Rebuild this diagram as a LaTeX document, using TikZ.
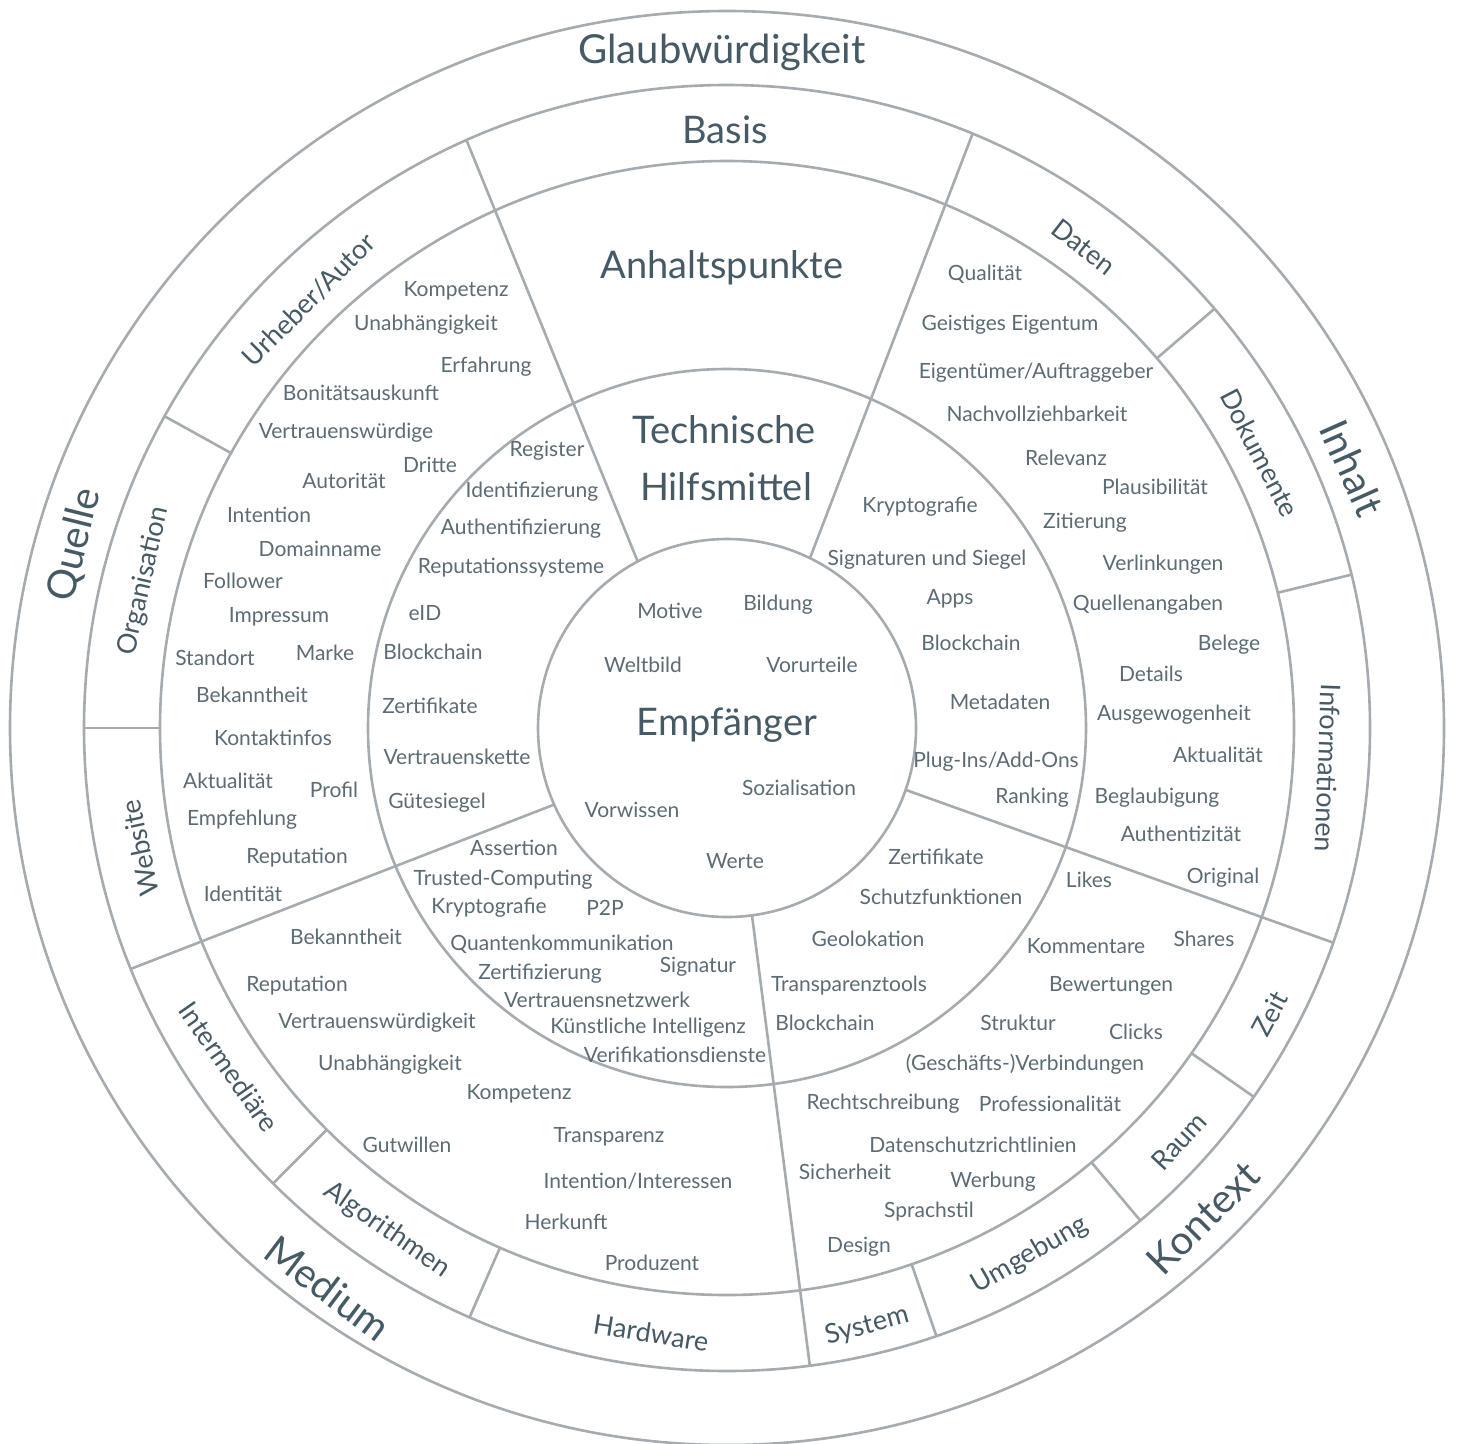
\documentclass[tikz,border=0pt]{standalone}
\usepackage{fontspec}
\setmainfont{Lato}
\definecolor{hd}{HTML}{465A66}
\definecolor{tx}{HTML}{5C6B74}
\definecolor{ln}{HTML}{A5ABAF}
\begin{document}
\begin{tikzpicture}[x=1pt,y=-1pt,
  ring/.style={draw=ln,line width=2.6pt},
  big/.style={text=hd,font=\fontsize{40}{44}\selectfont,inner sep=0pt},
  ttl/.style={text=hd,font=\fontsize{38}{42}\selectfont,inner sep=0pt},
  seg/.style={text=hd,font=\fontsize{27}{30}\selectfont,inner sep=0pt},
  item/.style={text=tx,font=\fontsize{21}{24}\selectfont,inner sep=0pt}]
\useasboundingbox[fill=white] (0,0) rectangle (1459,1443);
\coordinate (C) at (727,728);
% circles
\draw[ring] (C) circle[radius=717pt];
\draw[ring] (C) circle[radius=643pt];
\draw[ring] (C) circle[radius=567pt];
\draw[ring] (C) circle[radius=359pt];
\draw[ring] (C) circle[radius=189pt];
% main dividers
\foreach \ao/\ai in {113.9/118.2, 67.55/63.97, 202.0/203.9, 277.4/277.6, 340.5/340.9}
  \draw[ring] ({727+643*cos(\ao)},{728-643*sin(\ao)}) -- ({727+189*cos(\ai)},{728-189*sin(\ai)});
% sub dividers
\foreach \a in {151,180,225.1,246.4,289,310,325,13.8,40.7}
  \draw[ring] ({727+567*cos(\a)},{728-567*sin(\a)}) -- ({727+643*cos(\a)},{728-643*sin(\a)});
% outer ring labels
\node[big] (glaub) at (722,52) {Glaubwürdigkeit};
\node[big,rotate=76] (quelle) at (75,545) {Quelle};
\node[big,rotate=-66] (inhalt) at (1352,468) {Inhalt};
\node[big,rotate=45] (kontext) at (1203,1218) {Kontext};
\node[big,rotate=-37] (medium) at (328,1288) {Medium};
% second ring labels
\node[ttl] (basis) at (725,130) {Basis};
\node[seg,rotate=45] (urheber) at (309,300) {Urheber/Autor};
\node[seg,rotate=77] (orga) at (144,581) {Organisation};
\node[seg,rotate=102] (web) at (140,848) {Website};
\node[seg,rotate=-55] (inter) at (229,1067) {Intermediäre};
\node[seg,rotate=-35] (algo) at (387,1230) {Algorithmen};
\node[seg,rotate=-9] (hard) at (651,1333) {Hardware};
\node[seg,rotate=15] (sys) at (867,1326) {System};
\node[seg,rotate=30] (umg) at (1030,1255) {Umgebung};
\node[seg,rotate=47] (raum) at (1179,1141) {Raum};
\node[seg,rotate=62] (zeit) at (1270,1014) {Zeit};
\node[seg,rotate=-92] (info) at (1328,768) {Informationen};
\node[seg,rotate=-62.6] (doku) at (1260,453) {Dokumente};
\node[seg,rotate=-38] (daten) at (1084,247) {Daten};
% titles
\node[ttl] (anh) at (722,268) {Anhaltspunkte};
\node[ttl] (tech1) at (724,430) {Technische};
\node[ttl] (tech2) at (726,487) {Hilfsmittel};
\node[ttl] (empf) at (727,725) {Empfänger};
% items
\foreach \x/\y/\t [count=\i] in {
 456/291/Kompetenz, 426/325/Unabhängigkeit, 486/367/Erfahrung, 361/393/Bonitätsauskunft,
 346/433/Vertrauenswürdige, 430/465/Dritte, 344/481/Autorität, 269/515/Intention,
 320/549/Domainname, 243/581/Follower, 279/617/Impressum, 215/658/Standort, 325/653/Marke,
 252/695/Bekanntheit, 273/738/Kontaktinfos, 228/781/Aktualität, 334/790/Profil,
 242/820/Empfehlung, 297/858/Reputation, 243/894/Identität,
 547/451/Register, 532/492/Identifizierung, 521/529/Authentifizierung, 511/568/Reputationssysteme,
 425/613/eID, 433/652/Blockchain, 430/706/Zertifikate, 457/757/Vertrauenskette, 437/803/Gütesiegel,
 670/611/Motive, 778/605/Bildung, 643/665/Weltbild, 812/665/Vorurteile, 799/788/Sozialisation,
 632/810/Vorwissen, 735/861/Werte,
 920/507/Kryptografie, 927/560/Signaturen und Siegel, 950/599/Apps, 971/643/Blockchain,
 1000/702/Metadaten, 1032/798/Ranking,
 985/274/Qualität, 1010/325/Geistiges Eigentum, 1037/414/Nachvollziehbarkeit,
 1066/458/Relevanz, 1155/487/Plausibilität, 1085/523/Zitierung, 1163/565/Verlinkungen,
 1148/605/Quellenangaben, 1229/645/Belege, 1151/674/Details, 1174/715/Ausgewogenheit,
 1218/755/Aktualität, 1157/798/Beglaubigung, 1181/834/Authentizität, 1223/878/Original,
 514/848/Assertion, 503/880/Trusted-Computing, 489/908/Kryptografie, 605/908/P2P,
 562/944/Quantenkommunikation, 540/974/Zertifizierung, 698/967/Signatur,
 597/1000/Vertrauensnetzwerk, 648/1028/Künstliche Intelligenz, 675/1055/Verifikationsdienste,
 346/937/Bekanntheit, 297/986/Reputation, 377/1023/Vertrauenswürdigkeit, 390/1065/Unabhängigkeit,
 519/1094/Kompetenz, 407/1145/Gutwillen, 609/1137/Transparenz,
 566/1222/Herkunft, 652/1263/Produzent,
 936/857/Zertifikate, 941/897/Schutzfunktionen, 868/939/Geolokation, 849/986/Transparenztools,
 825/1023/Blockchain,
 1089/880/Likes, 1204/939/Shares, 1086/946/Kommentare, 1111/986/Bewertungen, 1018/1023/Struktur,
 1136/1032/Clicks, 883/1104/Rechtschreibung, 1050/1104/Professionalität,
 973/1145/Datenschutzrichtlinien, 845/1172/Sicherheit, 993/1182/Werbung, 929/1212/Sprachstil,
 859/1247/Design}
 \node[item] (it\i) at (\x,\y) {\t};
\node[item] (eig) at (1036,373) {Eigentümer/Auftraggeber};
\node[item] (plug) at (996,762) {Plug-Ins/Add-Ons};
\node[item] (intint) at (638,1181) {Intention/Interessen};
\node[item] (gesch) at (1025,1064) {(Geschäfts-)Verbindungen};
\end{tikzpicture}
\end{document}
